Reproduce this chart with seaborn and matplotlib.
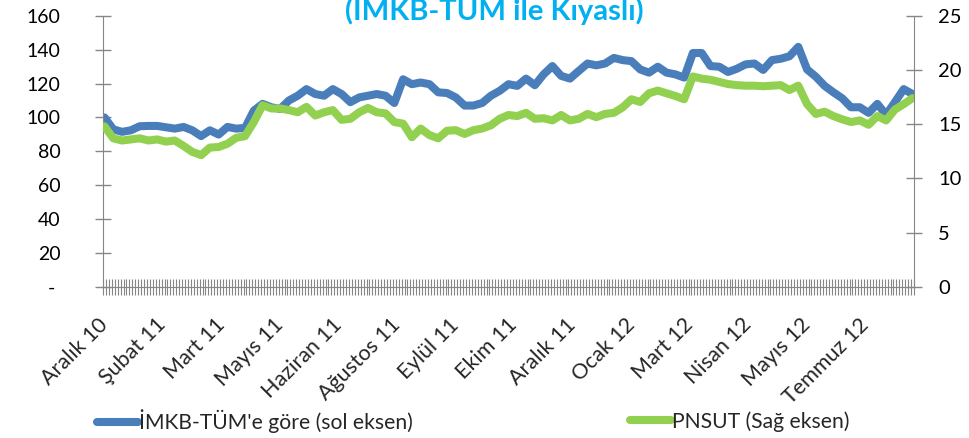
import matplotlib
matplotlib.use("Agg")
import matplotlib.pyplot as plt
import numpy as np
import pandas as pd
import seaborn as sns

# PNSUT günlük seyri (her ~3 işlem gününde bir okunan değerler)
imkb_tum = [100.0, 93.0, 91.5, 92.4, 94.8, 95.0, 95.0, 94.2, 93.4, 94.4,
            92.4, 89.0, 92.4, 89.9, 94.4, 93.4, 93.8, 104.0, 108.0, 106.0,
            105.0, 110.0, 112.8, 116.7, 113.8, 112.8, 116.7, 113.8, 109.0, 111.8,
            112.8, 113.8, 112.8, 108.5, 122.5, 119.6, 120.6, 119.6, 114.8, 114.4,
            111.8, 107.0, 107.0, 108.5, 112.8, 115.7, 119.6, 118.6, 122.9, 119.0,
            125.4, 130.3, 124.5, 122.9, 127.4, 131.8, 130.7, 131.8, 135.1, 133.8,
            133.2, 128.3, 126.4, 129.9, 126.4, 125.4, 123.5, 138.0, 138.0, 130.3,
            129.9, 126.8, 128.7, 131.3, 131.8, 128.0, 133.8, 134.6, 136.1, 141.6,
            128.3, 124.0, 118.6, 114.8, 111.3, 106.0, 106.0, 102.7, 108.0, 101.6,
            109.0, 116.7, 113.8]
pnsut = [14.8, 13.7, 13.5, 13.6, 13.7, 13.5, 13.6, 13.4, 13.5, 13.0,
         12.45, 12.15, 12.85, 12.9, 13.2, 13.75, 13.9, 15.2, 16.75, 16.45,
         16.45, 16.3, 16.1, 16.6, 15.8, 16.1, 16.3, 15.4, 15.5, 16.1,
         16.5, 16.1, 16.0, 15.2, 15.05, 13.8, 14.6, 14.0, 13.7, 14.4,
         14.45, 14.1, 14.45, 14.6, 14.9, 15.5, 15.85, 15.75, 16.05, 15.5,
         15.55, 15.35, 15.85, 15.35, 15.5, 15.95, 15.65, 15.95, 16.05, 16.55,
         17.3, 17.05, 17.85, 18.1, 17.85, 17.6, 17.3, 19.4, 19.2, 19.1,
         18.9, 18.7, 18.6, 18.55, 18.55, 18.5, 18.55, 18.6, 18.15, 18.55,
         16.85, 15.95, 16.15, 15.75, 15.45, 15.2, 15.35, 14.95, 15.75, 15.35,
         16.35, 16.85, 17.4]

ay_etiketleri = ["Aralık 10", "Şubat 11", "Mart 11", "Mayıs 11", "Haziran 11",
                 "Ağustos 11", "Eylül 11", "Ekim 11", "Aralık 11", "Ocak 12",
                 "Mart 12", "Nisan 12", "Mayıs 12", "Temmuz 12"]
sol_ticks = [0, 20, 40, 60, 80, 100, 120, 140, 160]
sol_etiket = ["- ", "20", "40", "60", "80", "100", "120", "140", "160"]
sag_ticks = [0, 5, 10, 15, 20, 25]

baslik = "(İMKB-TÜM ile Kıyaslı)"
seri1 = "İMKB-TÜM'e göre (sol eksen)"
seri2 = "PNSUT (Sağ eksen)"

df = pd.DataFrame({"gun": np.arange(len(imkb_tum)), "imkb": imkb_tum, "pnsut": pnsut})

sns.set_style("white")
plt.rcParams["font.family"] = ["Lato", "DejaVu Sans"]

MAVI = "#4a7ebb"
YESIL = "#92d050"
GRI = "#868686"

fig = plt.figure(figsize=(9.69, 4.38), dpi=100)
ax = fig.add_axes([0.1063, 0.3447, 0.8369, 0.6195])
ax2 = ax.twinx()

sns.lineplot(data=df, x="gun", y="imkb", ax=ax, color=MAVI, lw=5.8,
             solid_capstyle="round", solid_joinstyle="round", label=seri1, legend=False)
sns.lineplot(data=df, x="gun", y="pnsut", ax=ax2, color=YESIL, lw=5.8,
             solid_capstyle="round", solid_joinstyle="round", label=seri2, legend=False)

n = len(imkb_tum)
ax.set_xlim(-0.17, n - 1 + 0.17)
ax.set_ylim(0, 160)
ax2.set_ylim(0, 25)

ax.set_yticks(sol_ticks)
ax.set_yticklabels(sol_etiket)
ax2.set_yticks(sag_ticks)

# kategori ekseni: etiketler her 20 günde, küçük çentikler her gün
adim = 20 / 3
ax.set_xticks([k * adim for k in range(len(ay_etiketleri))])
ax.set_xticklabels(ay_etiketleri, rotation=45, ha="right", va="center",
                   rotation_mode="anchor")
ax.set_xticks(np.arange(-1 / 6, n - 1 + 0.2, 1 / 3), minor=True)

ax.set_xlabel("")
ax.set_ylabel("")
ax2.set_ylabel("")

for a in (ax, ax2):
    for s in a.spines.values():
        s.set_visible(False)
    a.grid(False)

ax.spines["left"].set_visible(True)
ax.spines["left"].set_color(GRI)
ax.spines["bottom"].set_visible(True)
ax.spines["bottom"].set_color(GRI)
ax2.spines["right"].set_visible(True)
ax2.spines["right"].set_color(GRI)

ax.tick_params(axis="y", left=True, right=False, direction="inout", length=11, width=1,
               color=GRI, labelsize=14, pad=25, labelcolor="black")
ax2.tick_params(axis="y", right=True, left=False, direction="inout", length=11, width=1,
                color=GRI, labelsize=14.5, pad=12, labelcolor="black")
ax.tick_params(axis="x", which="major", bottom=True, length=0, labelsize=15.5, pad=25)
ax.tick_params(axis="x", which="minor", bottom=True, direction="inout", length=11,
               width=0.8, color=GRI)

fig.text(0.51, 1 - 20 / 438, baslik, ha="center", va="baseline", fontsize=21,
         fontweight="bold", color="#00b0f0")

h1, l1 = ax.get_legend_handles_labels()
h2, l2 = ax2.get_legend_handles_labels()
fig.legend(h1, l1, loc="center left", bbox_to_anchor=(0.089, 0.038), frameon=False,
           fontsize=15.2, handlelength=1.95, handletextpad=0.05, borderpad=0)
fig.legend(h2, l2, loc="center left", bbox_to_anchor=(0.639, 0.038), frameon=False,
           fontsize=15.2, handlelength=1.95, handletextpad=0.05, borderpad=0)

fig.savefig("out.png", dpi=100)
